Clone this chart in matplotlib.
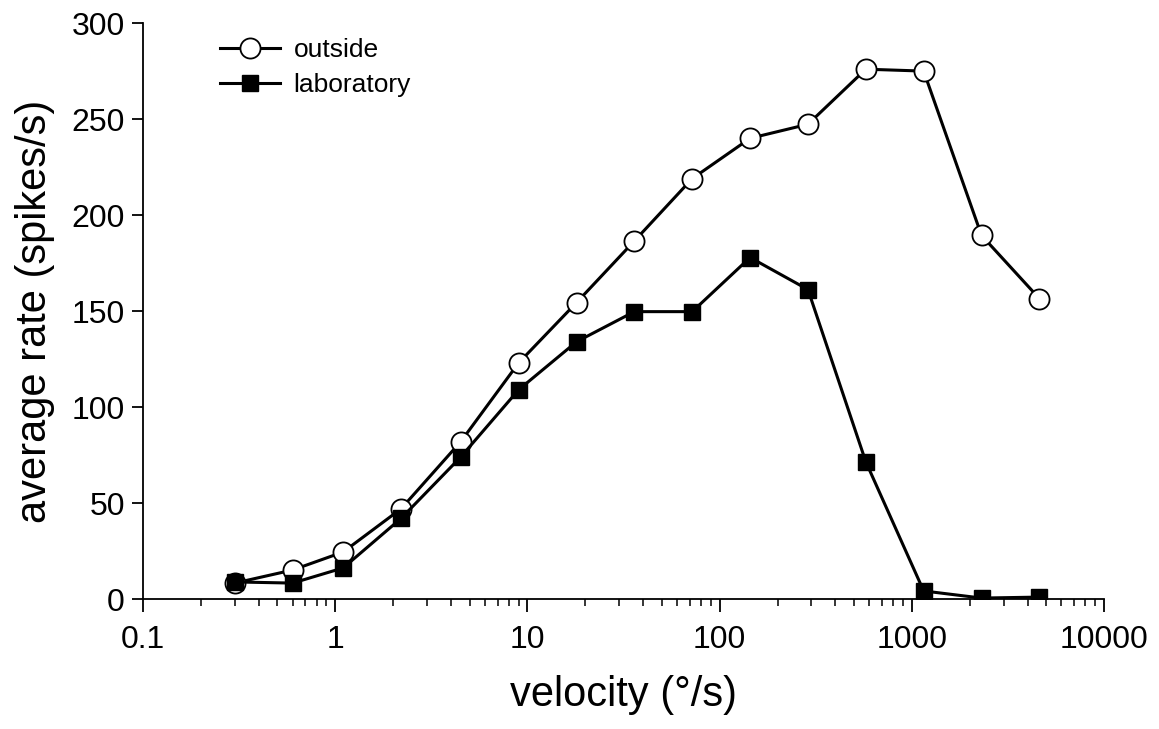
import numpy as np
import matplotlib.pyplot as plt
from matplotlib.ticker import LogLocator, NullFormatter

plt.rcParams['font.family'] = ['Liberation Sans', 'DejaVu Sans']

# velocities (deg/s), roughly doubling steps
velocity = [0.3, 0.6, 1.1, 2.2, 4.5, 9, 18, 36, 72, 144, 288, 576, 1152, 2304, 4608]
# average spike rate for each condition
outside = [8.3, 15.1, 24.5, 47, 82, 123, 154.4, 186.5, 219, 240, 247.3, 276, 275, 189.4, 156.5]
laboratory = [8.9, 8.3, 16.2, 42, 74, 109, 134, 149.7, 149.7, 177.9, 161.2, 71.5, 4.2, 0.5, 1.0]

fig = plt.figure(figsize=(11.59, 7.29), dpi=100)
ax = fig.add_axes([0.1234, 0.1783, 0.8292, 0.79])

ax.plot(velocity, outside, color='black', lw=2.2, marker='o', ms=14.5,
        mfc='white', mec='black', mew=1.3, label='outside', zorder=3)
ax.plot(velocity, laboratory, color='black', lw=2.2, marker='s', ms=11,
        mfc='black', mec='black', label='laboratory', zorder=4)

ax.set_xscale('log')
ax.set_xlim(0.1, 10000)
ax.set_ylim(0, 300)
ax.set_yticks([0, 50, 100, 150, 200, 250, 300])
ax.set_xticks([0.1, 1, 10, 100, 1000, 10000])
ax.set_xticklabels(['0.1', '1', '10', '100', '1000', '10000'])
ax.xaxis.set_minor_locator(LogLocator(base=10, subs=np.arange(2, 10)))
ax.xaxis.set_minor_formatter(NullFormatter())

for s in ['top', 'right']:
    ax.spines[s].set_visible(False)
for s in ['left', 'bottom']:
    ax.spines[s].set_linewidth(1.3)

ax.tick_params(axis='x', which='major', length=9, width=1.3, labelsize=23, pad=10)
ax.tick_params(axis='x', which='minor', length=5, width=1.1)
ax.tick_params(axis='y', which='major', length=8, width=1.3, labelsize=23, pad=5)

ax.set_xlabel('velocity (°/s)', fontsize=30, labelpad=14)
ax.set_ylabel('average rate (spikes/s)', fontsize=30, labelpad=12)

ax.legend(loc='upper left', bbox_to_anchor=(0.055, 1.015), frameon=False,
          fontsize=19, handlelength=2.3, handletextpad=0.5, labelspacing=0.4,
          markerscale=1.0)

fig.savefig('out.png', dpi=100)
